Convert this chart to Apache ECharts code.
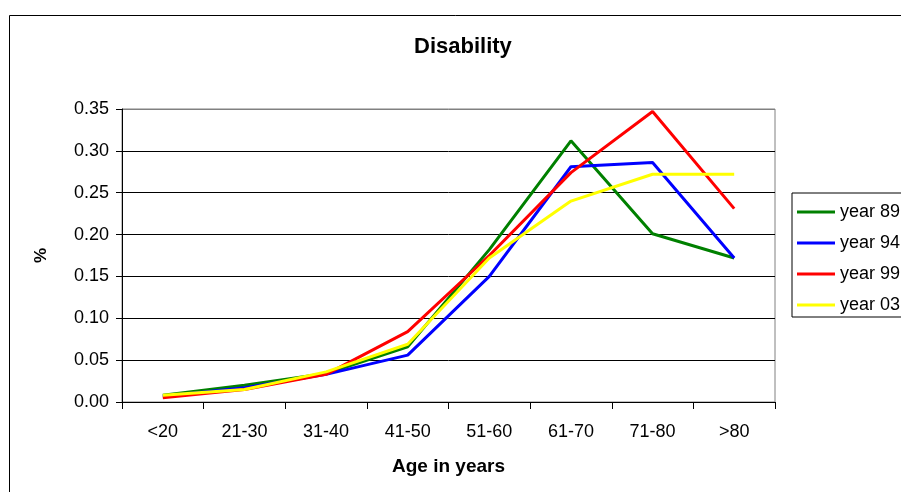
<!DOCTYPE html>
<html>
<head>
<meta charset="utf-8">
<script src="https://cdn.jsdelivr.net/npm/echarts@6/dist/echarts.min.js"></script>
<style>
  html, body { margin: 0; padding: 0; background: #fff; }
  #chart { width: 901px; height: 492px; }
</style>
</head>
<body>
<div id="chart"></div>
<script>
// Age groups on the x axis
const ageGroups = ['<20', '21-30', '31-40', '41-50', '51-60', '61-70', '71-80', '>80'];

// Share of disability per age group, by survey year
const year89 = [0.008, 0.020, 0.034, 0.066, 0.182, 0.312, 0.201, 0.172];
const year94 = [0.007, 0.017, 0.033, 0.056, 0.150, 0.281, 0.286, 0.172];
const year99 = [0.005, 0.015, 0.033, 0.084, 0.175, 0.274, 0.347, 0.231];
const year03 = [0.008, 0.015, 0.036, 0.069, 0.172, 0.240, 0.272, 0.272];

const seriesNames = ['year 89', 'year 94', 'year 99', 'year 03'];
const seriesData = [year89, year94, year99, year03];
const seriesColors = ['#008000', '#0000ff', '#ff0000', '#ffff00'];

const font = "'Liberation Sans', Arial, sans-serif";

const chart = echarts.init(document.getElementById('chart'), null, { renderer: 'canvas' });

chart.setOption({
  animation: false,
  backgroundColor: '#ffffff',
  title: {
    text: 'Disability',
    left: 414,
    top: 36,
    padding: 0,
    textStyle: { fontFamily: font, fontSize: 22, fontWeight: 'bold', color: '#000' }
  },
  graphic: [{
    type: 'rect',
    shape: { x: 9.5, y: 15.5, width: 1000, height: 1000 },
    style: { fill: 'none', stroke: '#000', lineWidth: 1 },
    silent: true,
    z: -1
  }],
  legend: {
    orient: 'vertical',
    left: 792,
    top: 193,
    padding: [10, 30, 3, 5],
    itemGap: 13,
    itemWidth: 38,
    itemHeight: 3,
    icon: 'rect',
    borderColor: '#000',
    borderWidth: 1,
    data: seriesNames,
    textStyle: { fontFamily: font, fontSize: 18, color: '#000', lineHeight: 17 }
  },
  grid: {
    left: 122,
    right: 126,
    top: 109,
    bottom: 90,
    show: true,
    borderColor: '#808080',
    borderWidth: 1,
    backgroundColor: '#fff'
  },
  xAxis: {
    type: 'category',
    data: ageGroups,
    boundaryGap: true,
    name: 'Age in years',
    nameLocation: 'middle',
    nameGap: 55,
    nameTextStyle: { fontFamily: font, fontSize: 19, fontWeight: 'bold', color: '#000' },
    axisLine: { lineStyle: { color: '#000', width: 1 } },
    axisTick: { show: true, interval: 0, length: 7, lineStyle: { color: '#000' } },
    axisLabel: { interval: 0, margin: 21, fontFamily: font, fontSize: 18, color: '#000' },
    splitLine: { show: false }
  },
  yAxis: {
    type: 'value',
    min: 0,
    max: 0.35,
    interval: 0.05,
    name: '%',
    nameLocation: 'middle',
    nameGap: 72,
    nameTextStyle: { fontFamily: font, fontSize: 17, fontWeight: 'bold', color: '#000' },
    axisLine: { show: true, lineStyle: { color: '#000', width: 1 } },
    axisTick: { show: true, length: 6, lineStyle: { color: '#000' } },
    axisLabel: {
      margin: 13,
      fontFamily: font,
      fontSize: 18,
      color: '#000',
      formatter: v => v.toFixed(2)
    },
    splitLine: {
      show: true,
      lineStyle: {
        color: ['#000', '#000', '#000', '#000', '#000', '#000', '#000', '#808080'],
        width: 1
      }
    }
  },
  series: seriesNames.map((name, i) => ({
    name: name,
    type: 'line',
    data: seriesData[i],
    symbol: 'none',
    color: seriesColors[i],
    lineStyle: { color: seriesColors[i], width: 3 },
    z: 2 + i
  }))
});
</script>
</body>
</html>
